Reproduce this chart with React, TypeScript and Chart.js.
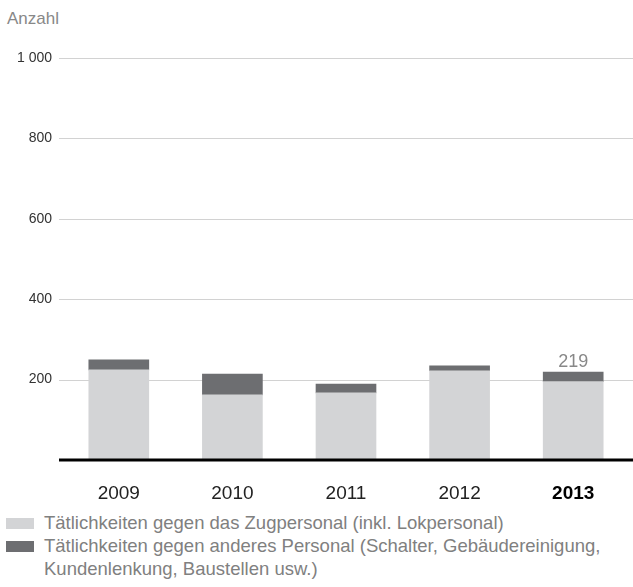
import React, { useEffect, useRef } from "react";
import { Chart, registerables } from "chart.js";

Chart.register(...registerables);

const years = ["2009", "2010", "2011", "2012", "2013"];
const zugpersonal = [224, 162, 167, 222, 195];
const anderesPersonal = [25, 52, 22, 12, 24];
const yTicks = [200, 400, 600, 800, 1000];
const legendLabels = [
  "Tätlichkeiten gegen das Zugpersonal (inkl. Lokpersonal)",
  "Tätlichkeiten gegen anderes Personal (Schalter, Gebäudereinigung,",
  "Kundenlenkung, Baustellen usw.)",
];

const LIGHT = "#d3d4d6";
const DARK = "#6d6e71";
const FONT = "'Liberation Sans', Arial, Helvetica, sans-serif";

const decorPlugin = {
  id: "decor",
  beforeDatasetsDraw(chart: any) {
    const ctx = chart.ctx;
    const y = chart.scales.y;
    ctx.save();
    ctx.strokeStyle = "#d2d2d2";
    ctx.lineWidth = 1;
    yTicks.forEach((v) => {
      const py = Math.round(y.getPixelForValue(v)) + 0.5;
      ctx.beginPath();
      ctx.moveTo(59, py);
      ctx.lineTo(633, py);
      ctx.stroke();
    });
    ctx.restore();
  },
  afterDatasetsDraw(chart: any) {
    const ctx = chart.ctx;
    const y = chart.scales.y;
    const x = chart.scales.x;
    ctx.save();
    const base = y.getPixelForValue(0);
    ctx.fillStyle = "#000";
    ctx.fillRect(59, base - 1.5, 633 - 59, 3);
    const i = years.length - 1;
    const total = zugpersonal[i] + anderesPersonal[i];
    ctx.fillStyle = "#888";
    ctx.font = `18px ${FONT}`;
    ctx.textAlign = "center";
    ctx.textBaseline = "alphabetic";
    ctx.fillText(String(total), x.getPixelForValue(i), y.getPixelForValue(total) - 5);
    ctx.restore();
  },
};

export default function App() {
  const canvasRef = useRef<HTMLCanvasElement | null>(null);

  useEffect(() => {
    if (!canvasRef.current) return;
    const chart = new Chart(canvasRef.current, {
      type: "bar",
      data: {
        labels: years,
        datasets: [
          { label: legendLabels[0], data: zugpersonal, backgroundColor: LIGHT, barThickness: 60 },
          { label: legendLabels[1], data: anderesPersonal, backgroundColor: DARK, barThickness: 60 },
        ],
      },
      options: {
        animation: false,
        responsive: true,
        maintainAspectRatio: false,
        layout: { padding: { top: 58, right: 3, left: 0, bottom: 0 } },
        plugins: { legend: { display: false }, tooltip: { enabled: false }, title: { display: false } },
        scales: {
          x: {
            stacked: true,
            grid: { display: false, drawTicks: false },
            border: { display: false },
            afterFit: (s: any) => { s.height = 50; },
            ticks: {
              padding: 22,
              color: (c: any) => (c.index === 4 ? "#000" : "#222"),
              font: (c: any) => ({ family: FONT, size: 19, weight: c.index === 4 ? "bold" : "normal" }),
            },
          },
          y: {
            stacked: true,
            min: 0,
            max: 1000,
            grid: { display: false },
            border: { display: false },
            afterFit: (s: any) => { s.width = 62; },
            ticks: {
              stepSize: 200,
              padding: 2,
              color: "#333",
              font: { family: FONT, size: 14 },
              callback: (v: any) => (v === 0 ? "" : v === 1000 ? "1 000" : String(v)),
            },
          },
        },
      },
      plugins: [decorPlugin],
    });
    return () => chart.destroy();
  }, []);

  const textStyle: React.CSSProperties = {
    position: "absolute",
    left: 44,
    fontFamily: FONT,
    fontSize: 18.5,
    lineHeight: "22.5px",
    color: "#808080",
    whiteSpace: "nowrap",
  };

  return (
    <div style={{ position: "absolute", left: 0, top: 0, width: 633, height: 587, background: "#fff", overflow: "hidden" }}>
      <div style={{ position: "absolute", left: 7, top: 9, fontFamily: FONT, fontSize: 17, lineHeight: "20px", color: "#888" }}>
        Anzahl
      </div>
      <div style={{ position: "absolute", left: 0, top: 0, width: 633, height: 510 }}>
        <canvas ref={canvasRef} />
      </div>
      <div style={{ position: "absolute", left: 6, top: 518, width: 28, height: 11, background: LIGHT }} />
      <div style={{ ...textStyle, top: 512 }}>{legendLabels[0]}</div>
      <div style={{ position: "absolute", left: 6, top: 541, width: 28, height: 11, background: DARK }} />
      <div style={{ ...textStyle, top: 535 }}>
        {legendLabels[1]}
        <br />
        {legendLabels[2]}
      </div>
    </div>
  );
}
